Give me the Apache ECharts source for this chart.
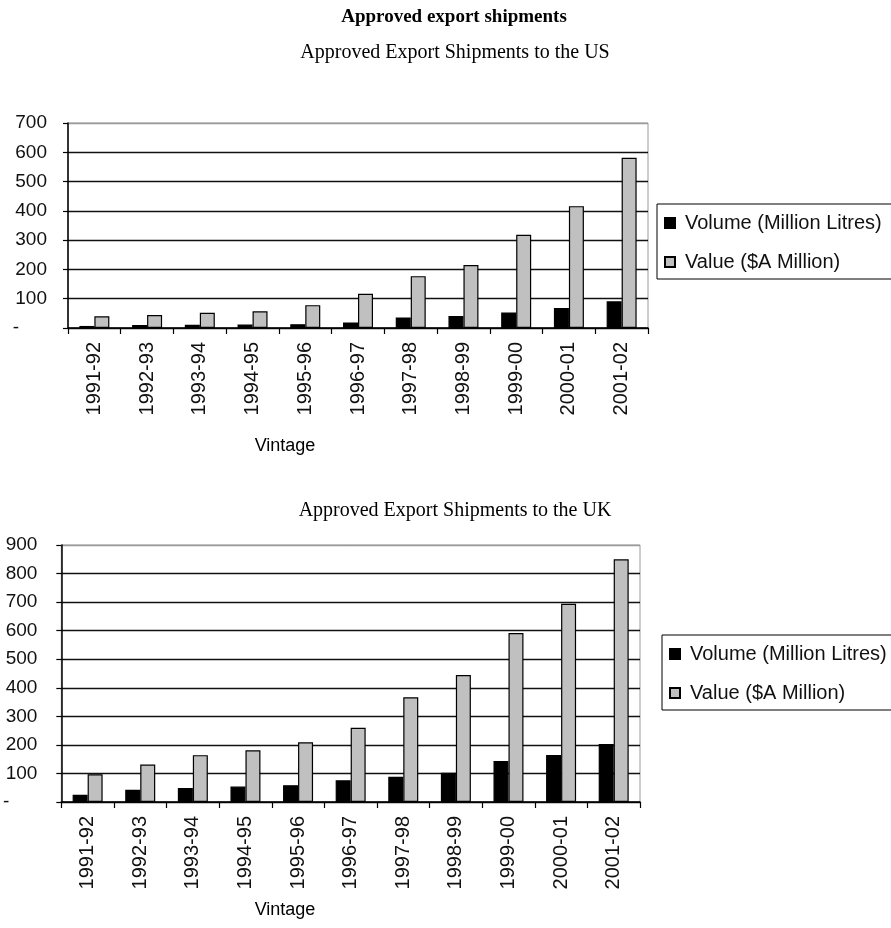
<!DOCTYPE html>
<html>
<head>
<meta charset="utf-8">
<title>Approved export shipments</title>
<script src="https://cdn.jsdelivr.net/npm/echarts@6/dist/echarts.min.js"></script>
<style>
  html, body { margin: 0; padding: 0; background: #fff; }
  #chart { width: 891px; height: 928px; }
</style>
</head>
<body>
<div id="chart"></div>
<script>
// Vintages (financial years)
const vintages = ['1991-92', '1992-93', '1993-94', '1994-95', '1995-96', '1996-97',
                  '1997-98', '1998-99', '1999-00', '2000-01', '2001-02'];

// Shipments to the US
const usVolume = [7, 10, 11, 12, 13, 19, 36, 41, 53, 68, 91];
const usValue  = [40, 44, 52, 57, 78, 117, 177, 215, 318, 416, 581];

// Shipments to the UK
const ukVolume = [25, 43, 49, 54, 59, 76, 88, 102, 144, 165, 203];
const ukValue  = [97, 131, 164, 181, 209, 260, 367, 445, 592, 694, 850];

const volumeName = 'Volume (Million Litres)';
const valueName = 'Value ($A Million)';

const sans = '"Liberation Sans", Arial, sans-serif';
const serif = '"Liberation Serif", "Times New Roman", serif';

function yAxis(gridIndex, max, dashPad, margin) {
  const lines = max / 100 + 1;
  const colors = [];
  for (let i = 0; i < lines; i++) colors.push(i === lines - 1 ? '#9a9a9a' : '#111');
  return {
    type: 'value', gridIndex, min: 0, max, interval: 100,
    axisLine: { show: true, lineStyle: { color: '#000', width: 1.5 } },
    axisTick: { show: true, length: 5, lineStyle: { color: '#000', width: 1.2 } },
    axisLabel: {
      margin, color: '#111', fontFamily: sans, fontSize: 19,
      formatter: v => v === 0 ? '{d|-}' : String(v),
      rich: { d: { fontFamily: sans, fontSize: 19, color: '#111', padding: [0, dashPad, 0, 0] } }
    },
    splitLine: { show: true, lineStyle: { color: colors, width: 1.4 } }
  };
}

function xAxis(gridIndex) {
  return {
    type: 'category', gridIndex, data: vintages, boundaryGap: true,
    axisLine: { show: true, lineStyle: { color: '#000', width: 1.5 } },
    axisTick: { show: true, length: 6, alignWithLabel: false, lineStyle: { color: '#000', width: 1.2 } },
    axisLabel: { rotate: 90, margin: 14, color: '#111', fontFamily: sans, fontSize: 20, interval: 0 },
    splitLine: { show: false }
  };
}

function bars(name, data, idx, fill) {
  return {
    type: 'bar', name, data, xAxisIndex: idx, yAxisIndex: idx,
    barWidth: 15, barGap: '0%',
    itemStyle: { color: fill, borderColor: '#000', borderWidth: 1.2 },
    emphasis: { disabled: true }
  };
}

function legend(left, top) {
  return {
    data: [volumeName, valueName],
    orient: 'vertical', left, top,
    icon: 'rect', itemWidth: 10, itemHeight: 10, itemGap: 19,
    padding: [9, 60, 7, 7],
    borderColor: '#000', borderWidth: 1, backgroundColor: '#fff',
    selectedMode: false,
    textStyle: { fontFamily: sans, fontSize: 20, color: '#111', lineHeight: 20, padding: [0, 0, 0, 5] }
  };
}

function text(x, y, str, font) {
  return {
    type: 'text', x, y,
    style: { text: str, font, fill: '#000', align: 'center', verticalAlign: 'middle' }
  };
}

const chart = echarts.init(document.getElementById('chart'), null, { renderer: 'canvas' });

chart.setOption({
  backgroundColor: '#fff',
  animation: false,
  grid: [
    { left: 68, right: 243, top: 123, bottom: 600, show: true, borderColor: '#9a9a9a', borderWidth: 1, backgroundColor: '#fff' },
    { left: 61, right: 251, top: 545, bottom: 126, show: true, borderColor: '#9a9a9a', borderWidth: 1, backgroundColor: '#fff' }
  ],
  xAxis: [xAxis(0), xAxis(1)],
  yAxis: [yAxis(0, 700, 28, 21), yAxis(1, 900, 28, 24)],
  legend: [legend(657, 204), legend(662, 635)],
  series: [
    bars(volumeName, usVolume, 0, '#000'),
    bars(valueName, usValue, 0, '#c0c0c0'),
    bars(volumeName, ukVolume, 1, '#000'),
    bars(valueName, ukValue, 1, '#c0c0c0')
  ],
  graphic: [
    text(454, 17, 'Approved export shipments', 'bold 19px ' + serif),
    text(455, 53, 'Approved Export Shipments to the US', '20px ' + serif),
    text(455, 511, 'Approved Export Shipments to the UK', '20px ' + serif),
    text(285, 446, 'Vintage', '18px ' + sans),
    text(285, 910, 'Vintage', '18px ' + sans)
  ]
});
</script>
</body>
</html>
